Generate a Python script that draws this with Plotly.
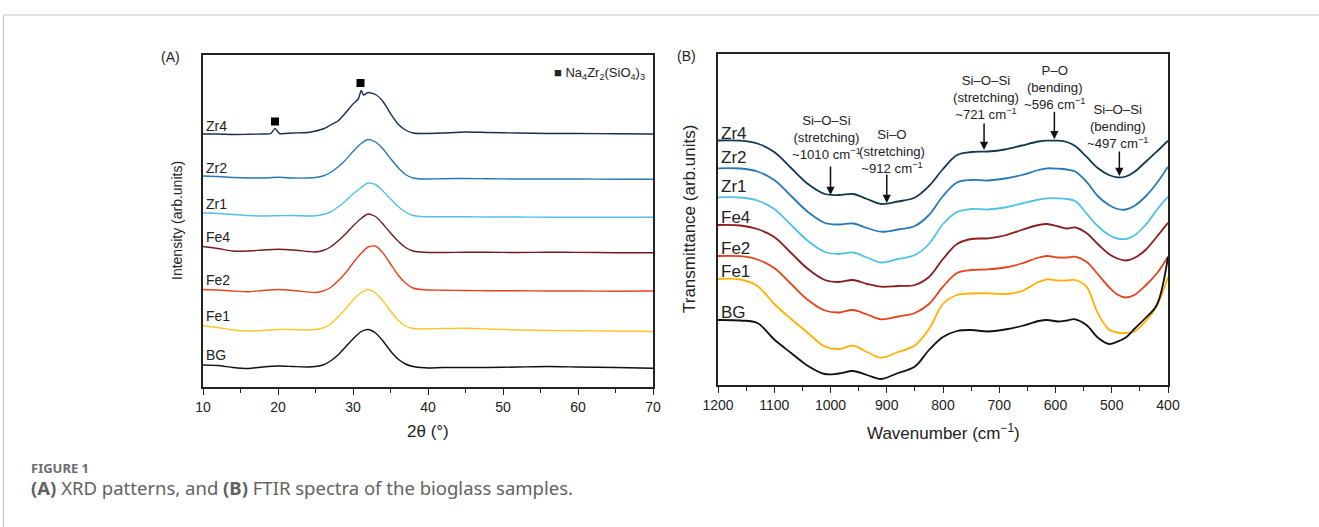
import plotly.graph_objects as go

FIG_W, FIG_H = 1319, 527

# ---------------- (A) XRD patterns ----------------
two_theta = [10, 12, 14, 16, 18, 20, 22, 24, 25, 26, 27, 28, 29, 30, 31, 32, 33, 34, 35, 36,
             37, 38, 39, 40, 42, 45, 48, 52, 56, 60, 65, 70]
xrd_bg = [22, 21.5, 19.5, 18.5, 20, 21, 20.5, 20, 20.5, 22, 26, 32, 40, 48, 55, 57.5, 54, 46, 36, 28,
          23, 20.5, 19.5, 19, 19.5, 19.5, 19.5, 20, 20.5, 20, 19.5, 18.7]
xrd_fe1 = [61, 59.5, 57, 56, 56.5, 57.5, 57.5, 57, 57.5, 59, 63, 70, 78, 87, 94, 97.5, 94, 86, 76, 67,
           61, 58.5, 58, 58.3, 58.5, 58.7, 58, 57, 56.5, 56.3, 56, 55.5]
xrd_fe2 = [97.5, 97, 96, 95.3, 96.5, 97.5, 96.5, 95, 94.5, 96, 99.5, 106, 114, 124, 133, 140, 141, 134, 123, 112,
           104, 99, 97.5, 97, 96.8, 96.5, 96.3, 96.2, 96, 96, 95.8, 96]
xrd_fe4 = [140.5, 138.5, 136, 136, 137, 137.7, 137, 135.5, 135, 136.5, 140, 146, 153, 161, 168, 173, 170.5, 163, 154, 146,
           139.5, 136, 135, 134.5, 134.5, 134.7, 134.7, 134.5, 134.8, 134.6, 134.3, 134.3]
xrd_zr1 = [174.3, 173.5, 172.5, 171.5, 171, 171.3, 171.5, 171, 171.2, 172.5, 175, 180, 186, 193, 199, 204, 202.5, 196, 188, 180.5,
           175, 171.5, 170.5, 170.3, 170.2, 170.3, 170, 170, 169.8, 169.7, 169.7, 169.7]
xrd_zr2 = [211, 210.5, 209.5, 209, 209, 209.7, 209, 209, 209.5, 211, 214.5, 220, 227, 235.5, 243, 247.5, 245, 238, 228.5, 219.5,
           212.5, 209, 208, 208, 208.3, 208.5, 208.2, 208, 208, 208, 207.8, 207.7]
two_theta_zr4 = [10, 12, 14, 16, 18, 19, 19.6, 20.2, 22, 24, 25, 26, 27, 28, 29, 30, 30.7, 31.1, 31.4, 32,
                 33, 34, 35, 36, 37, 38, 39, 40, 42, 45, 48, 52, 56, 60, 65, 70]
xrd_zr4 = [253, 253, 252.5, 252.7, 253, 253.3, 258.5, 253.5, 254, 254.5, 256, 258, 262, 266, 274, 283, 288, 296.5, 292, 294.5,
           292.5, 285.5, 273.5, 263, 257, 254, 253.5, 253.5, 254, 255, 254.5, 254, 253.5, 253.5, 253.2, 253]
# Na4Zr2(SiO4)3 reflections marked on Zr4
phase_x = [19.6, 31.0]
phase_y = [265.5, 304]

# ---------------- (B) FTIR spectra ----------------
wavenumber = [1200, 1160, 1130, 1100, 1070, 1040, 1010, 985, 960, 935, 910, 880, 850, 825, 800, 775, 750,
              720, 690, 660, 630, 615, 595, 580, 565, 545, 525, 505, 490, 475, 460, 440, 420, 400]
ftir_bg = [65, 64.5, 62, 45.5, 32, 19, 11, 11.5, 14, 10, 6, 12, 18.5, 35, 48, 54, 55,
           53.5, 55.5, 59, 64, 65, 63.5, 64.5, 65.7, 60, 47.5, 41, 43.3, 47.5, 56, 67, 80, 128.3]
ftir_fe1 = [106, 105.5, 99, 81, 66, 52, 38.5, 36, 39.3, 33, 27.3, 33, 39.5, 56, 81, 90, 91.5,
            91.7, 91, 94, 103, 105.7, 104.5, 104.5, 105, 98.3, 72, 55.5, 52.5, 52, 53.5, 63.5, 79, 108]
ftir_fe2 = [129, 128.8, 125.5, 117, 101, 85, 74.5, 72.5, 75, 70.5, 65.7, 68.5, 72, 81, 98.3, 112, 115,
            115.7, 117.5, 121.5, 127.5, 129, 127.5, 127.5, 128.3, 123.3, 111, 98, 90.5, 87.5, 90, 99.5, 111.5, 128.3]
ftir_fe4 = [160, 159.5, 156, 148, 132, 116, 105, 103, 105, 101, 98.3, 99, 100, 108, 126, 141, 146,
            146.7, 149.5, 155, 160, 161, 158.5, 156.5, 157.5, 152, 141, 131, 126.5, 124.5, 127, 135, 148.3, 162.3]
ftir_zr1 = [187.7, 187.5, 184.5, 176, 160, 144, 133, 131, 132.5, 127.5, 122.5, 126, 130, 141, 161, 173, 176,
            175.5, 177.5, 181.5, 185.5, 186.7, 186.7, 186, 184, 171.7, 159, 150, 146.5, 146, 149.5, 160, 175, 188.3]
ftir_zr2 = [216.7, 216.5, 213.5, 205, 189, 173, 162, 160.5, 161.5, 157, 153.3, 155.5, 159, 170, 189, 202.5, 205,
            204.5, 206.5, 210, 215, 216.7, 216.3, 215.5, 213.5, 203.3, 189, 180, 176, 175.5, 179, 188.5, 201.7, 218.3]
ftir_zr4 = [244.5, 244.3, 241.5, 233, 217, 201, 191, 190, 191, 186, 181, 183.5, 187.5, 199, 216, 230, 233,
            233.5, 235.5, 239.5, 243.5, 244.3, 244.3, 243, 239, 228.3, 217, 210, 207.7, 208.5, 213, 223, 233.3, 244.3]

sample_names = ["Zr4", "Zr2", "Zr1", "Fe4", "Fe2", "Fe1", "BG"]
sample_colors = ["#172f4c", "#2878b5", "#4fc2e6", "#6f1c1c", "#e6431c", "#fdc52a", "#111111"]
ftir_colors = ["#123a4c", "#2878b5", "#4fc2e6", "#8a1d1d", "#e6431c", "#ffb000", "#111111"]

# bond assignments: label text and where it sits, arrow position and the level it points to
band_labels = ["Si–O–Si<br>(stretching)<br>~1010 cm<sup>−1</sup>",
               "Si–O<br>(stretching)<br>~912 cm<sup>−1</sup>",
               "Si–O–Si<br>(stretching)<br>~721 cm<sup>−1</sup>",
               "P–O<br>(bending)<br>~596 cm<sup>−1</sup>",
               "Si–O–Si<br>(bending)<br>~497 cm<sup>−1</sup>"]
band_text_x = [1007.5, 890.5, 723.5, 601.5, 489]
band_text_y = [247.3, 233.3, 287.7, 297.7, 259]
band_arrow_x = [1000, 900, 727, 602, 486.5]
band_tip_y = [190, 182, 235, 245.7, 209]
band_tail_len = [30, 30, 28, 29, 26]


def px_x(p):
    return p / FIG_W


def px_y(p):
    return 1 - p / FIG_H


fig = go.Figure()

xrd_x = [two_theta_zr4, two_theta, two_theta, two_theta, two_theta, two_theta, two_theta]
xrd_y = [xrd_zr4, xrd_zr2, xrd_zr1, xrd_fe4, xrd_fe2, xrd_fe1, xrd_bg]
for name, color, xs, ys in zip(sample_names, sample_colors, xrd_x, xrd_y):
    fig.add_trace(go.Scatter(x=xs, y=ys, mode="lines", name=name, showlegend=False,
                             line=dict(color=color, width=1.4, shape="spline", smoothing=0.6),
                             xaxis="x", yaxis="y"))
fig.add_trace(go.Scatter(x=phase_x, y=phase_y, mode="markers", showlegend=False,
                         marker=dict(symbol="square", size=8, color="#000000"),
                         xaxis="x", yaxis="y"))

ftir_y = [ftir_zr4, ftir_zr2, ftir_zr1, ftir_fe4, ftir_fe2, ftir_fe1, ftir_bg]
for name, color, ys in zip(sample_names, ftir_colors, ftir_y):
    fig.add_trace(go.Scatter(x=wavenumber, y=ys, mode="lines", name=name, showlegend=False,
                             line=dict(color=color, width=1.8, shape="spline", smoothing=1.0),
                             xaxis="x2", yaxis="y2"))

FONT = "Liberation Sans, Arial"
frame_axis = dict(showline=True, linecolor="#222222", linewidth=1.5, mirror=True,
                  showgrid=False, zeroline=False, automargin=False)
x_ticks = dict(ticks="outside", tickcolor="#222222", tickwidth=1.2, ticklen=6,
               tickfont=dict(family=FONT, size=14, color="#222222"))

fig.update_layout(
    width=FIG_W, height=FIG_H,
    margin=dict(l=0, r=0, t=0, b=0),
    paper_bgcolor="white", plot_bgcolor="white",
    showlegend=False,
    xaxis=dict(domain=[px_x(203), px_x(653)], range=[10, 70], tickvals=[10, 20, 30, 40, 50, 60, 70],
               minor=dict(tickvals=[15, 25, 35, 45, 55, 65], ticks="outside", ticklen=4,
                          tickcolor="#222222", tickwidth=1.2),
               anchor="y", **frame_axis, **x_ticks),
    yaxis=dict(domain=[px_y(387), px_y(55)], range=[0, 332], showticklabels=False, ticks="",
               anchor="x", **frame_axis),
    xaxis2=dict(domain=[px_x(718), px_x(1168)], range=[1200, 400],
                tickvals=[1200, 1100, 1000, 900, 800, 700, 600, 500, 400],
                minor=dict(tickvals=[1150, 1050, 950, 850, 750, 650, 550, 450], ticks="outside",
                           ticklen=4, tickcolor="#222222", tickwidth=1.2),
                anchor="y2", **frame_axis, **x_ticks),
    yaxis2=dict(domain=[px_y(385), px_y(53.5)], range=[0, 331.5], showticklabels=False, ticks="",
                anchor="x2", **frame_axis),
)

ann = []
label_font_a = dict(family=FONT, size=14, color="#222222")
label_font_b = dict(family=FONT, size=17, color="#222222")
# sample names just above the left end of each curve
xrd_label_gap = [8.5, 8.5, 8.5, 10, 9.5, 10, 10]
ftir_label_gap = [7, 11, 11, 8, 8, 8, 8]
for name, ys, gap in zip(sample_names, xrd_y, xrd_label_gap):
    ann.append(dict(x=10, y=ys[0] + gap, xref="x", yref="y", text=name, showarrow=False,
                    xanchor="left", yanchor="middle", xshift=1, font=label_font_a))
for name, ys, gap in zip(sample_names, ftir_y, ftir_label_gap):
    ann.append(dict(x=1200, y=ys[0] + gap, xref="x2", yref="y2", text=name, showarrow=False,
                    xanchor="left", yanchor="middle", xshift=1, font=label_font_b))

# phase key
ann.append(dict(x=px_x(552), y=px_y(73), xref="paper", yref="paper", showarrow=False,
                xanchor="left", yanchor="middle",
                text="■ Na<sub>4</sub>Zr<sub>2</sub>(SiO<sub>4</sub>)<sub>3</sub>",
                font=dict(family=FONT, size=13, color="#222222")))

# band assignments: text block plus an arrow pointing down to the band
for text, tx, ty in zip(band_labels, band_text_x, band_text_y):
    ann.append(dict(x=tx, y=ty, xref="x2", yref="y2", text=text, showarrow=False,
                    xanchor="center", yanchor="middle",
                    font=dict(family=FONT, size=13.2, color="#222222")))
for bx, tip, tail in zip(band_arrow_x, band_tip_y, band_tail_len):
    ann.append(dict(x=bx, y=tip, xref="x2", yref="y2", text="", showarrow=True,
                    axref="pixel", ayref="pixel", ax=0, ay=-tail, standoff=0,
                    arrowhead=2, arrowsize=1.1, arrowwidth=1.5, arrowcolor="#111111"))

# axis titles and panel tags
ann += [
    dict(x=px_x(428), y=px_y(431), text="2θ (°)",
         font=dict(family=FONT, size=17, color="#222222")),
    dict(x=px_x(943), y=px_y(432), text="Wavenumber (cm<sup>−1</sup>)",
         font=dict(family=FONT, size=17, color="#222222")),
    dict(x=px_x(177), y=px_y(221), text="Intensity (arb.units)", textangle=-90,
         font=dict(family=FONT, size=14, color="#222222")),
    dict(x=px_x(690), y=px_y(219), text="Transmittance (arb.units)", textangle=-90,
         font=dict(family=FONT, size=17, color="#222222")),
    dict(x=px_x(170), y=px_y(57), text="(A)", font=dict(family=FONT, size=14, color="#222222")),
    dict(x=px_x(686), y=px_y(56), text="(B)", font=dict(family=FONT, size=14, color="#222222")),
]
for a in ann[-6:]:
    a.update(xref="paper", yref="paper", showarrow=False, xanchor="center", yanchor="middle")

ann += [
    dict(x=px_x(29), y=px_y(468), xref="paper", yref="paper", text="<b>FIGURE 1</b>", showarrow=False,
         xanchor="left", yanchor="middle",
         font=dict(family="Noto Sans, Open Sans", size=13, color="#6e6e6e")),
    dict(x=px_x(29), y=px_y(487), xref="paper", yref="paper",
         text="<b>(A)</b> XRD patterns, and <b>(B)</b> FTIR spectra of the bioglass samples.",
         showarrow=False, xanchor="left", yanchor="middle",
         font=dict(family="Noto Sans, Open Sans", size=18.5, color="#626262")),
]
fig.update_layout(annotations=ann)

# page frame
fig.add_shape(type="line", xref="paper", yref="paper", x0=px_x(3), x1=1, y0=px_y(15), y1=px_y(15),
              line=dict(color="#c4c4c4", width=1.2))
fig.add_shape(type="line", xref="paper", yref="paper", x0=px_x(3.5), x1=px_x(3.5), y0=px_y(15), y1=0,
              line=dict(color="#c4c4c4", width=1.2))

fig.write_html("out.html")
